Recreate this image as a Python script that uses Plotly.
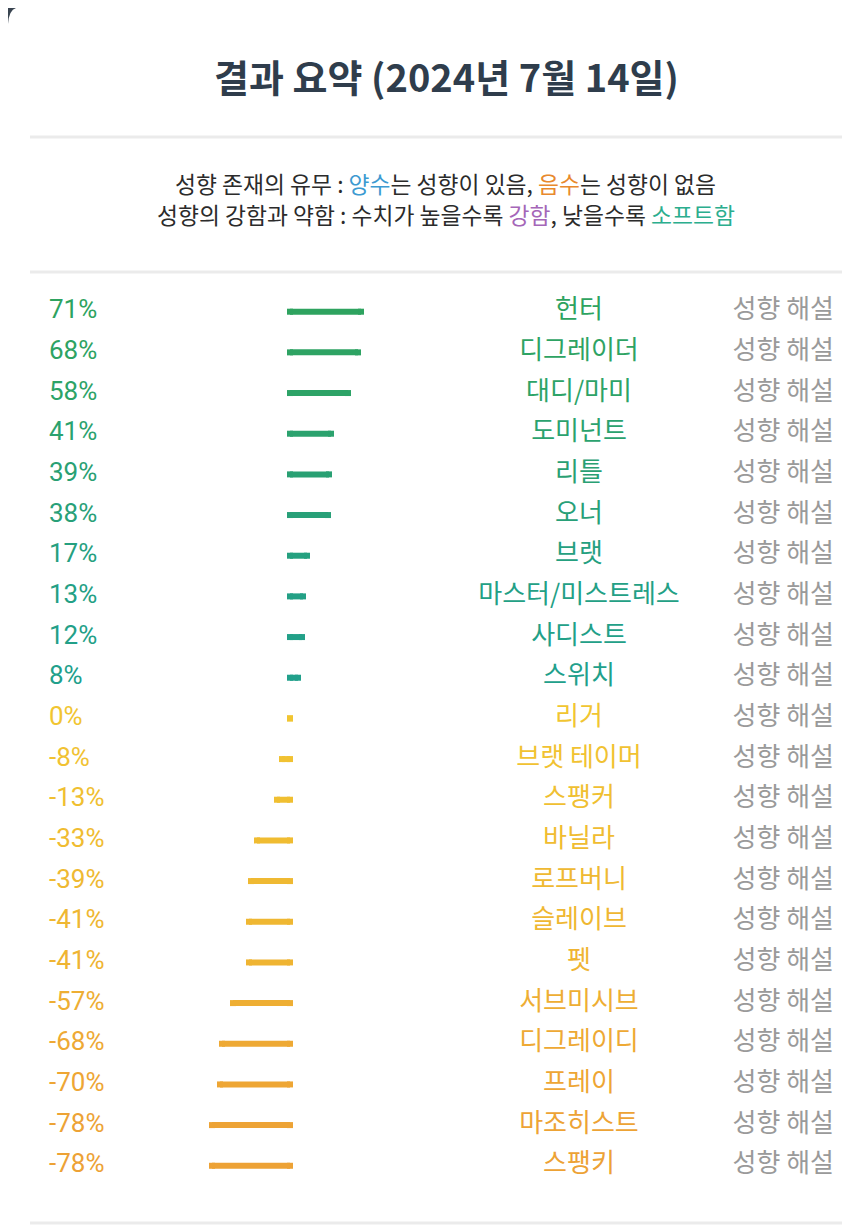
"""결과 요약 — 성향 막대 차트."""

import plotly.graph_objects as go

values = [71, 68, 58, 41, 39, 38, 17, 13, 12, 8, 0, -8, -13, -33, -39, -41, -41,
          -57, -68, -70, -78, -78]
labels = ["헌터", "디그레이더", "대디/마미", "도미넌트", "리틀", "오너", "브랫",
          "마스터/미스트레스", "사디스트", "스위치", "리거", "브랫 테이머", "스팽커",
          "바닐라", "로프버니", "슬레이브", "펫", "서브미시브", "디그레이디", "프레이",
          "마조히스트", "스팽키"]
colors = ["#2ea35f", "#2ea363", "#2da367", "#2ba26e", "#29a073", "#28a078",
          "#25a07f", "#23a085", "#22a088", "#21a08b", "#f1c531", "#f1c232",
          "#f0bf31", "#f0bc31", "#efb932", "#efb732", "#efb432", "#eeae33",
          "#eea934", "#eea634", "#eda335", "#eda235"]
link_text = "성향 해설"

KR = "Noto Sans CJK KR"
NUM = "Roboto, Noto Sans CJK KR"

# the page body has an 8px margin: figure is sized to fit the 850x1227 window
OFF = 8
W, H = 850 - OFF, 1227 - OFF
ZERO_X = 290 - OFF          # 1 px per %, zero line
ROW0, ROW_H = 311.7 - OFF, 40.67
rows = list(range(len(values)))


def px(x):
    return (x - OFF) / W


def py(y):
    return 1 - (y - OFF) / H


fig = go.Figure()

for i, (v, c) in enumerate(zip(values, colors)):
    fig.add_trace(go.Scatter(
        x=[0, v], y=[i, i], mode="lines+markers",
        line=dict(color=c, width=6),
        marker=dict(symbol="square", size=6, color=c, line=dict(width=0)),
        hoverinfo="skip", showlegend=False,
    ))

fig.add_trace(go.Scatter(
    x=[49 - OFF - ZERO_X] * len(rows), y=rows, mode="text",
    text=[f"{v}%" for v in values], textposition="middle right",
    textfont=dict(family=NUM, size=26, color=colors),
    hoverinfo="skip", showlegend=False,
))
fig.add_trace(go.Scatter(
    x=[579 - OFF - ZERO_X] * len(rows), y=rows, mode="text",
    text=labels, textposition="middle center",
    textfont=dict(family=KR, size=26, color=colors),
    hoverinfo="skip", showlegend=False,
))
fig.add_trace(go.Scatter(
    x=[834 - OFF - ZERO_X] * len(rows), y=rows, mode="text",
    text=[link_text] * len(rows), textposition="middle left",
    textfont=dict(family=KR, size=26, color="#9a9a9a"),
    hoverinfo="skip", showlegend=False,
))

fig.add_annotation(
    x=px(447), y=py(75), xref="paper", yref="paper", showarrow=False,
    xanchor="center", yanchor="middle",
    text="<b>결과 요약 (2024년 7월 14일)</b>",
    font=dict(family=KR, size=38, color="#2f3d4c"),
)
sub_lines = [
    "성향 존재의 유무 : <span style='color:#3d9ad1'>양수</span>는 성향이 있음, "
    "<span style='color:#e8892d'>음수</span>는 성향이 없음",
    "성향의 강함과 약함 : 수치가 높을수록 <span style='color:#a566b8'>강함</span>, "
    "낮을수록 <span style='color:#2bae8e'>소프트함</span>",
]
for y, line in zip((184, 215), sub_lines):
    fig.add_annotation(
        x=px(446), y=py(y), xref="paper", yref="paper", showarrow=False,
        xanchor="center", yanchor="middle", text=line,
        font=dict(family=KR, size=22.8, color="#2b2b2b"),
    )

shapes = []
for y in (137, 272, 1223):
    shapes.append(dict(type="line", xref="paper", yref="paper",
                       x0=px(30), x1=1, y0=py(y), y1=py(y),
                       line=dict(color="#ebebeb", width=3)))
# dark frame peeking in at the card's rounded top-left corner
shapes.append(dict(
    type="path", xref="paper", yref="paper",
    path=(f"M{px(8)},{py(8)} L{px(16)},{py(8)} "
          f"Q{px(9)},{py(10)} {px(8)},{py(24)} Z"),
    fillcolor="#3a4551", line=dict(width=0), layer="above"))

fig.update_layout(
    width=W, height=H, margin=dict(l=0, r=0, t=0, b=0),
    paper_bgcolor="white", plot_bgcolor="white",
    shapes=shapes,
    xaxis=dict(range=[-ZERO_X, W - ZERO_X], visible=False, fixedrange=True),
    yaxis=dict(range=[(H - ROW0) / ROW_H, -ROW0 / ROW_H], visible=False,
               fixedrange=True),
)

fig.write_html("out.html")
